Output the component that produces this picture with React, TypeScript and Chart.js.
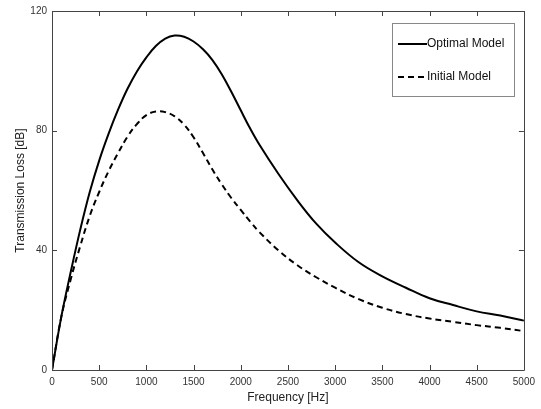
import React, { useEffect, useRef } from "react";
import { Chart, registerables } from "chart.js";

Chart.register(...registerables);

const frequencies = [0, 100, 200, 300, 400, 500, 600, 700, 800, 900, 1000, 1100, 1200, 1300, 1400, 1500, 1600, 1700, 1800, 1900, 2000, 2100, 2200, 2400, 2600, 2800, 3000, 3250, 3500, 3750, 4000, 4250, 4500, 4750, 5000];
const optimalModel = [0, 18, 33, 47, 59.5, 70, 79, 87, 94, 99.8, 104.5, 108.3, 110.8, 111.8, 111.4, 109.8, 107.2, 103.6, 98.8, 93, 86.8, 80.7, 75.2, 65.5, 56.7, 48.9, 42.6, 36, 31.3, 27.5, 24, 21.7, 19.6, 18.2, 16.5];
const initialModel = [0, 18, 30.5, 41.5, 51.5, 59.5, 66.5, 72.5, 78, 82.2, 85.2, 86.4, 86.2, 84.8, 82, 77.8, 72.5, 67, 62, 57.5, 53.5, 49.6, 46, 40, 35, 31, 27.5, 23.7, 20.8, 18.7, 17.2, 16.1, 15, 14.1, 13];
const seriesNames = ["Optimal Model", "Initial Model"];
const xTitle = "Frequency [Hz]";
const yTitle = "Transmission Loss [dB]";

const FONT = "'Liberation Sans', Arial, sans-serif";

const framePlugin = {
  id: "frame",
  afterDraw(chart: any) {
    const { ctx, chartArea } = chart;
    const xs = chart.scales.x;
    const ys = chart.scales.y;
    const { left, right, top, bottom } = chartArea;
    ctx.save();
    ctx.strokeStyle = "#444";
    ctx.lineWidth = 1;
    ctx.beginPath();
    ctx.rect(Math.round(left) + 0.5, Math.round(top) + 0.5, Math.round(right - left), Math.round(bottom - top));
    ctx.stroke();
    const tl = 5;
    ctx.beginPath();
    xs.ticks.forEach((t: any) => {
      const px = Math.round(xs.getPixelForValue(t.value)) + 0.5;
      ctx.moveTo(px, bottom);
      ctx.lineTo(px, bottom - tl);
      ctx.moveTo(px, top);
      ctx.lineTo(px, top + tl);
    });
    ys.ticks.forEach((t: any) => {
      const py = Math.round(ys.getPixelForValue(t.value)) + 0.5;
      ctx.moveTo(left, py);
      ctx.lineTo(left + tl, py);
      ctx.moveTo(right, py);
      ctx.lineTo(right - tl, py);
    });
    ctx.stroke();

    // legend
    const bx = 392.5, by = 23.5, bw = 122, bh = 73;
    ctx.fillStyle = "#fff";
    ctx.fillRect(bx, by, bw, bh);
    ctx.strokeStyle = "#888";
    ctx.strokeRect(bx, by, bw, bh);
    const rows = [
      { y: 44, dash: [] as number[] },
      { y: 77, dash: [6, 4] },
    ];
    ctx.font = `12px ${FONT}`;
    ctx.textBaseline = "middle";
    ctx.fillStyle = "#111";
    rows.forEach((r, i) => {
      ctx.beginPath();
      ctx.setLineDash(r.dash);
      ctx.strokeStyle = "#000";
      ctx.lineWidth = 2;
      ctx.moveTo(398, r.y);
      ctx.lineTo(427, r.y);
      ctx.stroke();
      ctx.setLineDash([]);
      ctx.fillText(seriesNames[i], 427, r.y);
    });
    ctx.restore();
  },
};

export default function App() {
  const ref = useRef<HTMLCanvasElement>(null);
  useEffect(() => {
    if (!ref.current) return;
    const chart = new Chart(ref.current, {
      type: "line",
      data: {
        datasets: [
          {
            label: seriesNames[0],
            data: frequencies.map((f, i) => ({ x: f, y: optimalModel[i] })),
            borderColor: "#000",
            borderWidth: 2,
            pointRadius: 0,
            tension: 0.4,
            fill: false,
          },
          {
            label: seriesNames[1],
            data: frequencies.map((f, i) => ({ x: f, y: initialModel[i] })),
            borderColor: "#000",
            borderWidth: 2,
            borderDash: [6, 4],
            pointRadius: 0,
            tension: 0.4,
            fill: false,
          },
        ],
      },
      options: {
        animation: false,
        responsive: false,
        maintainAspectRatio: false,
        layout: { padding: { top: 10, right: 16, left: 0, bottom: 0 } },
        plugins: { legend: { display: false }, tooltip: { enabled: false } },
        scales: {
          x: {
            type: "linear",
            min: 0,
            max: 5000,
            grid: { display: false, drawTicks: false, tickLength: 0 },
            border: { display: false },
            ticks: { stepSize: 500, color: "#333", font: { family: FONT, size: 10 }, padding: 6, maxRotation: 0, callback: (v: any) => String(v) },
            title: { display: true, text: xTitle, color: "#222", font: { family: FONT, size: 12 }, padding: { top: 0, bottom: 4 } },
            afterFit: (s: any) => { s.height = 39; },
          },
          y: {
            type: "linear",
            min: 0,
            max: 120,
            grid: { display: false, drawTicks: false, tickLength: 0 },
            border: { display: false },
            ticks: { stepSize: 40, color: "#333", font: { family: FONT, size: 10 }, padding: 5, callback: (v: any) => String(v) },
            title: { display: true, text: yTitle, color: "#222", font: { family: FONT, size: 12 }, padding: { top: 13, bottom: 0 } },
            afterFit: (s: any) => { s.width = 52; },
          },
        },
      },
      plugins: [framePlugin],
    } as any);
    return () => chart.destroy();
  }, []);
  return (
    <div style={{ position: "fixed", left: 0, top: 0, width: 541, height: 409, background: "#fff" }}>
      <canvas ref={ref} width={541} height={409} style={{ width: 541, height: 409 }} />
    </div>
  );
}
